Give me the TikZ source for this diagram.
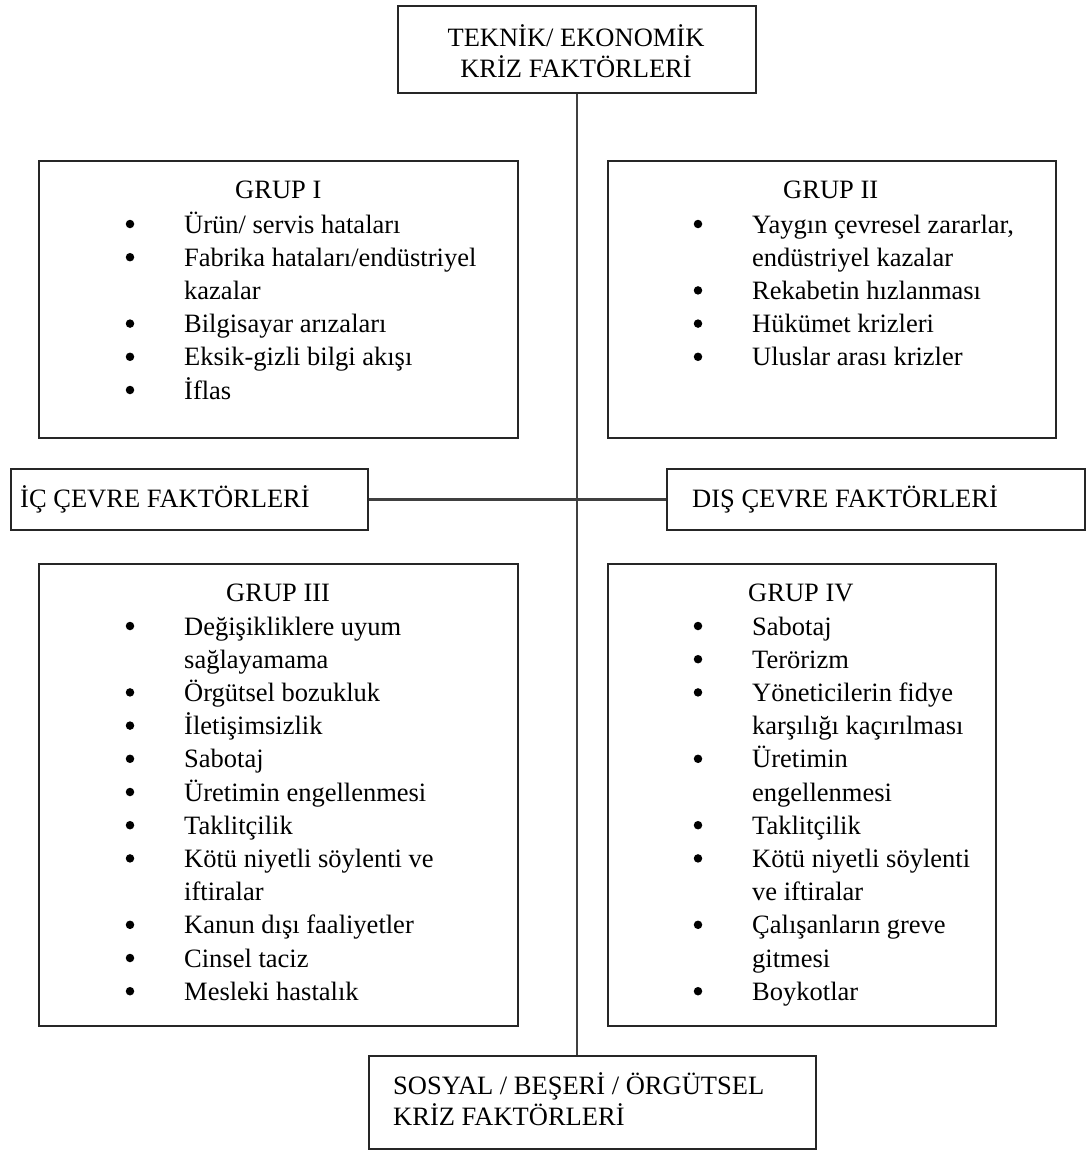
\documentclass[tikz,border=0pt]{standalone}
\usepackage{fontspec}
\setmainfont{Liberation Serif}
\newcommand\glist[5]{%
  \foreach \b/\t [count=\i] in {#5} {
    \pgfmathsetmacro\yy{#4+(\i-1)*33.2}
    \node[txt, anchor=base west] (#1t\i) at (#3,\yy) {\t};
    \ifnum\b=1 \node[bul] (#1b\i) at (#2,\yy-9) {};\fi
  }}
\begin{document}
\begin{tikzpicture}[x=1pt,y=-1pt,
  box/.style={draw=black!85, line width=2.2pt, rectangle, inner sep=0pt, anchor=north west},
  conn/.style={draw=black!75, line width=2.4pt},
  txt/.style={inner sep=0pt, font=\fontsize{26.5}{33}\selectfont, text=black},
  bul/.style={circle, fill=black, inner sep=0pt, minimum size=8.5pt},
]
\useasboundingbox (0,0) rectangle (1086,1151);

% boxes
\node[box, minimum width=358pt, minimum height=87pt] (top) at (397,5) {};
\node[box, minimum width=479pt, minimum height=277pt] (g1) at (38,160) {};
\node[box, minimum width=448pt, minimum height=277pt] (g2) at (607,160) {};
\node[box, minimum width=357pt, minimum height=61pt] (ic) at (10,468) {};
\node[box, minimum width=418pt, minimum height=61pt] (dis) at (666,468) {};
\node[box, minimum width=479pt, minimum height=462pt] (g3) at (38,563) {};
\node[box, minimum width=388pt, minimum height=462pt] (g4) at (607,563) {};
\node[box, minimum width=447pt, minimum height=93pt] (bot) at (368,1055) {};

% connectors
\draw[conn] (top.south) -- (top.south |- bot.north);
\draw[conn] (ic.east) -- (dis.west);

% box labels
\node[txt, anchor=base] (topa) at (576,46) {TEKNİK/ EKONOMİK};
\node[txt, anchor=base] (topb) at (576,77) {KRİZ FAKTÖRLERİ};
\node[txt, anchor=base west] (ict) at (20,507) {İÇ ÇEVRE FAKTÖRLERİ};
\node[txt, anchor=base west] (dist) at (692,507) {DIŞ ÇEVRE FAKTÖRLERİ};
\node[txt, anchor=base west] (bota) at (393,1094) {SOSYAL / BEŞERİ / ÖRGÜTSEL};
\node[txt, anchor=base west] (botb) at (393,1125) {KRİZ FAKTÖRLERİ};

% group titles
\node[txt, anchor=base west] (g1h) at (235,198) {GRUP I};
\node[txt, anchor=base west] (g2h) at (783,198) {GRUP II};
\node[txt, anchor=base west] (g3h) at (226,601) {GRUP III};
\node[txt, anchor=base west] (g4h) at (748,601) {GRUP IV};

% group lists
\glist{ga}{130}{184}{233}{1/{Ürün/ servis hataları}, 1/{Fabrika hataları/endüstriyel}, 0/{kazalar}, 1/{Bilgisayar arızaları}, 1/{Eksik-gizli bilgi akışı}, 1/{İflas}}
\glist{gb}{698}{752}{233}{1/{Yaygın çevresel zararlar,}, 0/{endüstriyel kazalar}, 1/{Rekabetin hızlanması}, 1/{Hükümet krizleri}, 1/{Uluslar arası krizler}}
\glist{gc}{130}{184}{635}{1/{Değişikliklere uyum}, 0/{sağlayamama}, 1/{Örgütsel bozukluk}, 1/{İletişimsizlik}, 1/{Sabotaj}, 1/{Üretimin engellenmesi}, 1/{Taklitçilik}, 1/{Kötü niyetli söylenti ve}, 0/{iftiralar}, 1/{Kanun dışı faaliyetler}, 1/{Cinsel taciz}, 1/{Mesleki hastalık}}
\glist{gd}{698}{752}{635}{1/{Sabotaj}, 1/{Terörizm}, 1/{Yöneticilerin fidye}, 0/{karşılığı kaçırılması}, 1/{Üretimin}, 0/{engellenmesi}, 1/{Taklitçilik}, 1/{Kötü niyetli söylenti}, 0/{ve iftiralar}, 1/{Çalışanların greve}, 0/{gitmesi}, 1/{Boykotlar}}
\end{tikzpicture}
\end{document}
